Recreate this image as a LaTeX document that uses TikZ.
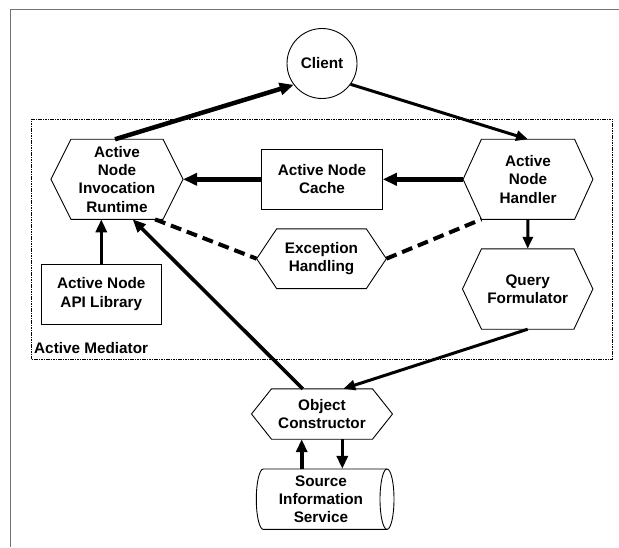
\documentclass[tikz,border=0pt]{standalone}
\usepackage{fontspec}
\setmainfont{Liberation Sans}
\usetikzlibrary{arrows.meta,calc}

% outline of a hexagon around a (borderless) rectangular node
\newcommand\hexframe[2]{%
  \draw[outline] (#1.west) -- ([xshift=#2pt]#1.north west) -- ([xshift=-#2pt]#1.north east)
    -- (#1.east) -- ([xshift=-#2pt]#1.south east) -- ([xshift=#2pt]#1.south west) -- cycle;}

\tikzset{
  every node/.style={font=\fontsize{15.3}{18.3}\selectfont\bfseries, align=center, inner sep=0pt},
  outline/.style={line width=0.9pt, draw=black},
  boxnode/.style={rectangle, outline},
  hexnode/.style={rectangle},
  medbox/.style={rectangle, draw=black, line width=0.6pt, dash pattern=on 1.6pt off 0.8pt},
  frameline/.style={line width=1.6pt, draw=black!55},
  fat/.style={line width=4.5pt, -{Triangle[length=14pt,width=12pt]}},
  mid/.style={line width=3.6pt, -{Triangle[length=13pt,width=11pt]}},
  slim/.style={line width=3pt, -{Triangle[length=12pt,width=10pt]}},
  dashlink/.style={line width=4pt, dash pattern=on 11pt off 6pt},
}

\begin{document}
\begin{tikzpicture}[x=1pt,y=-1pt]
\useasboundingbox (0,0) rectangle (619,547);

% page frame
\draw[frameline] (10.5,547) -- (10.5,9.4) -- (619,9.4);

% Active Mediator region
\node[medbox, minimum width=581.2pt, minimum height=240pt] (mediator) at (322.1,239.3) {};
\node[anchor=west] (medlabel) at (34,347.7) {Active Mediator};

% components
\node[circle, outline, minimum size=70pt] (client) at (322,63.5) {Client};

\node[hexnode, minimum width=131.7pt, minimum height=79.7pt] (inv) at (117,179.3) {Active\\Node\\Invocation\\Runtime};
\hexframe{inv}{20}

\node[boxnode, minimum width=120.6pt, minimum height=60.3pt] (cache) at (322,179.3) {Active Node\\Cache};

\node[hexnode, minimum width=129.4pt, minimum height=79.7pt] (handler) at (528,179.3) {Active\\Node\\Handler};
\hexframe{handler}{18.3}

\node[hexnode, minimum width=129.3pt, minimum height=59.3pt] (exc) at (321.5,258.7) {Exception\\Handling};
\hexframe{exc}{20}

\node[boxnode, minimum width=120.7pt, minimum height=60pt] (api) at (101.3,294) {Active Node\\API Library};

\node[hexnode, minimum width=130pt, minimum height=80pt] (query) at (527.7,289) {Query\\Formulator};
\hexframe{query}{19}

\node[hexnode, minimum width=140.6pt, minimum height=50pt] (obj) at (322,414) {Object\\Constructor};
\hexframe{obj}{20}

% source cylinder
\draw[outline] (387,469) -- (263.3,469)
  arc[start angle=90, end angle=270, x radius=7pt, y radius=30.2pt] -- (387,529.4);
\draw[outline] (387,499.2) ellipse [x radius=7pt, y radius=30.2pt];
\node[minimum width=124pt, minimum height=60.4pt] (cyl) at (321,499.2) {Source\\Information\\Service};

% connectors
\draw[fat] ([xshift=-2pt]inv.north) -- (client.217);
\draw[slim] (client.-36) -- (handler.north);
\draw[fat] (handler.west) -- (cache.east);
\draw[fat] (cache.west) -- (inv.east);
\draw[mid] (api.north) -- (api.north |- inv.south);
\draw[slim] (handler.south) -- (query.north);
\draw[slim] (query.south) -- ([xshift=21.3pt]obj.north);
\draw[mid] ([xshift=-19.3pt]obj.north) -- ([xshift=15.7pt]inv.south);
\draw[mid] ([xshift=-19.3pt]cyl.north) -- ([xshift=-20.3pt]obj.south);
\draw[mid] ([xshift=20.3pt]obj.south) -- ([xshift=21.3pt]cyl.north);
\draw[dashlink] ([xshift=-28pt]inv.south east) -- (exc.west);
\draw[dashlink] (exc.east) -- ([xshift=18.3pt]handler.south west);
\end{tikzpicture}
\end{document}
